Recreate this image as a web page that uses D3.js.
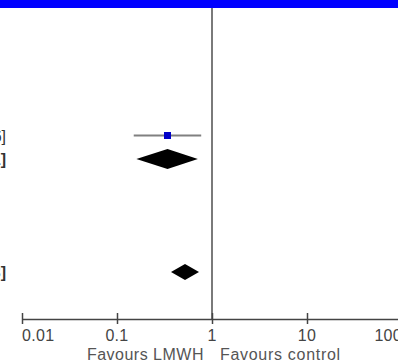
<!DOCTYPE html>
<html><head><meta charset="utf-8">
<script src="https://cdn.jsdelivr.net/npm/d3@7"></script>
<style>html,body{margin:0;padding:0;background:#fff;overflow:hidden}</style>
</head><body>
<script>
// Data
const studies = ["Study"];
const studyOR = [0.34];
const studyLo = [0.15];
const studyHi = [0.77];
const studyText = ["0.34 [0.15, 0.76]"];
const pooledLabels = ["Subtotal", "Total"];
const pooledOR = [0.34, 0.52];
const pooledLo = [0.16, 0.37];
const pooledHi = [0.71, 0.73];
const pooledText = ["0.34 [0.16, 0.71]", "0.52 [0.37, 0.73]"];
const tickValues = [0.01, 0.1, 1, 10, 100];
const tickLabels = ["0.01", "0.1", "1", "10", "100"];
const favourLeft = "Favours LMWH";
const favourRight = "Favours control";

const W = 398, H = 363;
const svg = d3.select("body").append("svg").attr("width", W).attr("height", H)
  .style("font-family", "Arial, 'Liberation Sans', sans-serif");

const x = d3.scaleLog().domain([0.01, 100]).range([22, 402]);
const y = d3.scaleLinear().domain([0, 1]).range([135.5, 159]);
const rowY = { study: [y(0)], pooled: [y(1), 272] };

// blue header band
svg.append("rect").attr("x", 0).attr("y", 0).attr("width", W).attr("height", 8).attr("fill", "#0000ff");

// line of no effect
svg.append("line").attr("x1", x(1)).attr("x2", x(1)).attr("y1", 8).attr("y2", 319)
  .attr("stroke", "#7a7a7a").attr("stroke-width", 2);

// axis
const axisY = 319;
const axis = d3.axisBottom(x).tickValues(tickValues).tickSize(0).tickFormat("");
const ag = svg.append("g").attr("transform", `translate(0,${axisY})`).call(axis);
ag.select(".domain").attr("stroke", "#444").attr("stroke-width", 1.5);
ag.selectAll(".tick").each(function(d) {
  d3.select(this).append("line").attr("y1", -6).attr("y2", 5).attr("stroke", "#444").attr("stroke-width", 1.5);
});
svg.selectAll("text.tl").data(tickValues).enter().append("text").attr("class", "tl")
  .attr("x", d => x(d)).attr("y", 341)
  .attr("text-anchor", (d, i) => i === 0 ? "start" : (i === tickValues.length - 1 ? "end" : "middle"))
  .attr("font-size", 16).attr("fill", "#444").attr("letter-spacing", 0.3)
  .text((d, i) => tickLabels[i]);

svg.append("text").attr("x", x(1) - 8).attr("y", 360).attr("text-anchor", "end")
  .attr("font-size", 16).attr("letter-spacing", 0.5).attr("fill", "#555").text(favourLeft);
svg.append("text").attr("x", x(1) + 8).attr("y", 360).attr("text-anchor", "start")
  .attr("font-size", 16).attr("letter-spacing", 0.7).attr("fill", "#555").text(favourRight);

// study CI + square
studies.forEach((s, i) => {
  const yy = rowY.study[i];
  svg.append("line").attr("x1", x(studyLo[i])).attr("x2", x(studyHi[i])).attr("y1", yy).attr("y2", yy)
    .attr("stroke", "#808080").attr("stroke-width", 2);
  svg.append("rect").attr("x", x(studyOR[i]) - 3.5).attr("y", yy - 3.5).attr("width", 7).attr("height", 7)
    .attr("fill", "#0000c8");
  svg.append("text").attr("x", 6).attr("y", yy + 6).attr("text-anchor", "end")
    .attr("font-size", 16).attr("fill", "#333").text(studyText[i]);
});

// pooled diamonds
const halfH = [10, 8];
pooledLabels.forEach((p, i) => {
  const yy = rowY.pooled[i], h = halfH[i];
  const pts = [[x(pooledLo[i]), yy], [x(pooledOR[i]), yy - h], [x(pooledHi[i]), yy], [x(pooledOR[i]), yy + h]];
  svg.append("path").attr("d", d3.line()(pts) + "Z").attr("fill", "#000");
  svg.append("text").attr("x", 6).attr("y", yy + 6).attr("text-anchor", "end")
    .attr("font-size", 16).attr("font-weight", "bold").attr("fill", "#333").text(pooledText[i]);
});
</script>
</body></html>
